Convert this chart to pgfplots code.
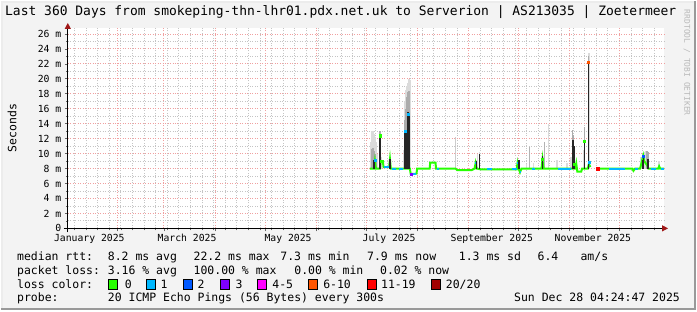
\documentclass[border=0pt]{standalone}
\usepackage{fontspec}
\setmainfont{DejaVu Sans Mono}
\usepackage{pgfplots}
\pgfplotsset{compat=1.18}
\usetikzlibrary{arrows.meta}
\definecolor{bgc}{HTML}{F3F3F3}
\definecolor{mgrid}{HTML}{F0A0A0}
\definecolor{ngrid}{HTML}{C4C4C4}
\definecolor{arrowc}{HTML}{A01818}
\definecolor{l0}{HTML}{26FF00}
\definecolor{l1}{HTML}{00B8FF}
\definecolor{l2}{HTML}{0059FF}
\definecolor{l3}{HTML}{7E00FF}
\definecolor{l4}{HTML}{FF00FF}
\definecolor{l6}{HTML}{FF5500}
\definecolor{l11}{HTML}{FF0000}
\definecolor{l20}{HTML}{A00000}
\newcommand{\lfont}{\fontsize{11.5bp}{13bp}\selectfont}
\begin{document}
\begin{tikzpicture}
\fill[bgc] (0bp,0bp) rectangle (697bp,310bp);
\draw[line width=2bp, color=white!85!gray] (1bp,0bp) -- (1bp,309bp) -- (697bp,309bp);
\draw[line width=2bp, color=gray!80] (0bp,1bp) -- (696bp,1bp) -- (696bp,310bp);
\node[anchor=base west, inner sep=0pt, font=\fontsize{13bp}{15bp}\selectfont] at (4bp,295bp) {Last 360 Days from smokeping-thn-lhr01.pdx.net.uk to Serverion | AS213035 | Zoetermeer};
\node[rotate=-90, inner sep=0pt, text=gray!55, font=\fontsize{8bp}{9bp}\selectfont] at (688bp,248bp) {RRDTOOL / TOBI OETIKER};
\begin{axis}[
  at={(67bp,82bp)}, anchor=south west, scale only axis,
  width=598bp, height=201bp,
  xmin=1, xmax=361, ymin=0, ymax=26.8,
  axis background/.style={fill=white},
  axis x line=bottom, axis y line=left,
  x axis line style={black, line width=1bp, shorten >=-4bp, shorten <=-4bp, -{Triangle[length=6bp,width=6bp,color=arrowc]}},
  y axis line style={black, line width=1bp, shorten >=-5bp, shorten <=-4bp, -{Triangle[length=6bp,width=6bp,color=arrowc]}},
  xtick={31,59,90,120,151,181,212,243,273,304,334},
  xticklabels={},
  minor xtick={5,12,...,361},
  extra x ticks={14,73,134,195,257,318},
  extra x tick labels={January 2025,March 2025,May 2025,July 2025,September 2025,November 2025},
  extra x tick style={grid=none, major tick length=0pt, xticklabel style={yshift=-2bp}},
  ytick={0,2,...,26},
  yticklabels={0,2 m,4 m,6 m,8 m,10 m,12 m,14 m,16 m,18 m,20 m,22 m,24 m,26 m},
  minor ytick={1,3,...,25},
  grid=both,
  major grid style={mgrid, line width=0.8bp, dash pattern=on 1bp off 1.5bp},
  minor grid style={ngrid, line width=0.8bp, dash pattern=on 1bp off 1.5bp},
  tick align=outside,
  major tick length=3bp, minor tick length=2bp,
  tick style={black!60, line width=0.6bp},
  tick label style={font=\fontsize{9.8bp}{11bp}\selectfont},
  ylabel={Seconds},
  ylabel style={at={(axis description cs:-0.0936,0.5)}, anchor=center, font=\fontsize{11.5bp}{13bp}\selectfont},
  unbounded coords=jump,
  clip=false,
]
% light smoke
\addplot[draw=none, mark=none, forget plot, error bars/.cd, y dir=plus, y explicit, error mark=none,
  error bar style={draw=gray!28, line width=1.8bp}] coordinates {
(184.0,8) +- (0,3.5) (184.6,8) +- (0,5.0) (185.2,8) +- (0,5.0) (185.8,8) +- (0,4.6)
(186.4,8) +- (0,4.2) (187.0,8) +- (0,3.5) (187.6,8) +- (0,2.0) (190.0,8) +- (0,1.5)
(195.5,8) +- (0,1.7) (204.0,8) +- (0,2.5) (204.5,8) +- (0,9.0) (205.1,8) +- (0,10.5)
(205.7,8) +- (0,11.0) (206.3,8) +- (0,11.5) (206.9,8) +- (0,12.0) (207.5,8) +- (0,11.8)
(247.2,8) +- (0,1.2) (248.4,8) +- (0,2.0) (249.6,8) +- (0,2.2) (272.5,8) +- (0,1.5)
(277.9,8) +- (0,0.6) (282.2,8) +- (0,0.8) (287.0,8) +- (0,1.0) (291.2,8) +- (0,6.0)
(296.5,8) +- (0,1.1) (302.6,8) +- (0,0.7) (305.0,8) +- (0,1.5) (312.3,8) +- (0,2.5)
(315.9,8) +- (0,15.5) (347.2,8) +- (0,1.5) (348.4,8) +- (0,2.0) (349.6,8) +- (0,2.2)
(350.2,8) +- (0,2.4) (358.0,8) +- (0,1.0)
};
% thin light spike
\addplot[draw=none, mark=none, forget plot, error bars/.cd, y dir=plus, y explicit, error mark=none,
  error bar style={draw=gray!40, line width=1bp}] coordinates {
(235.2,8) +- (0,4.2)
};
% medium smoke
\addplot[draw=none, mark=none, forget plot, error bars/.cd, y dir=plus, y explicit, error mark=none,
  error bar style={draw=gray!65, line width=1.6bp}] coordinates {
(184.6,8) +- (0,2.6) (185.2,8) +- (0,2.8) (185.8,8) +- (0,2.4) (186.4,8) +- (0,2.0)
(187.0,8) +- (0,1.2) (189.4,8) +- (0,5.0) (204.5,8) +- (0,6.5) (205.1,8) +- (0,8.0)
(205.7,8) +- (0,9.5) (206.3,8) +- (0,10.2) (206.9,8) +- (0,10.4)
(305.6,8) +- (0,5.1) (306.2,8) +- (0,4.5) (312.9,8) +- (0,5.5) (315.3,8) +- (0,15.0)
(350.8,8) +- (0,2.4) (351.4,8) +- (0,2.2)
};
\addplot[draw=none, mark=none, forget plot, error bars/.cd, y dir=plus, y explicit, error mark=none,
  error bar style={draw=gray!60, line width=1.1bp}] coordinates {
(279.7,8) +- (0,2.9) (288.8,8) +- (0,3.6)
};
% median line (green)
\addplot[l0, line width=2bp, mark=none, forget plot] coordinates {
(183.4,8.0) (185.8,8.0) (186.4,9.0) (187.0,8.0) (189.4,8.0) (189.9,9.0) (191.2,9.0) (191.6,8.2)
(195.0,8.2) (195.5,9.2) (196.0,8.0) (207.5,8.0) (208.0,7.3) (211.5,7.3) (211.9,8.0) (219.5,8.0)
(219.8,8.8) (223.0,8.8) (223.3,8.0) (235.0,8.0) (236.0,7.8) (245.0,7.8) (246.6,8.0) (247.2,8.7)
(247.8,8.0) (250.0,7.9) (272.0,7.9) (272.5,8.7) (273.2,8.0) (274.0,7.5) (274.9,8.0) (287.0,8.0)
(287.6,9.2) (288.2,8.0) (307.6,8.0) (308.0,8.6) (308.6,7.6) (311.0,7.6) (311.5,8.0) (315.0,8.0)
(315.6,8.6) (316.5,8.2) (316.6,nan) (320.1,8.0) (341.8,8.0) (342.5,7.7) (343.5,8.0) (346.5,8.0)
(347.2,8.6) (348.4,9.7) (349.0,9.0) (350.8,8.4) (351.5,8.0) (357.5,8.0) (358.0,8.3) (358.6,8.0) (361.0,8.0)
};
% median line, 1 lost (blue)
\addplot[l1, line width=2bp, mark=none, forget plot] coordinates {
(186.2,9.0) (186.8,9.0) (187,nan) (192.0,8.2) (195.0,8.2) (195.1,nan) (195.3,9.2) (195.8,9.2) (196,nan)
(197,8.0) (199,8.0) (200,nan) (201,8.0) (203.5,8.0) (204,nan) (208.5,7.3) (211.5,7.3) (212,nan)
(224.0,8.0) (225.0,8.0) (226,nan) (247.0,8.7) (247.6,8.7) (248,nan) (254,7.9) (257,7.9) (258,nan)
(269,7.9) (272.0,7.9) (272.2,nan) (272.3,8.7) (273.0,8.7) (273.5,nan) (273.8,7.5) (274.6,7.5) (275,nan)
(281,8.0) (283,8.0) (284,nan) (297,8.0) (305,8.0) (305.5,nan) (315.5,8.7) (316.3,8.7) (317,nan)
(327.9,8.0) (337.5,8.0) (338,nan) (343.5,8.0) (345.5,8.0) (346,nan) (348.1,9.7) (348.7,9.7) (349,nan)
(350.5,8.4) (351.1,8.4) (352,nan) (353,8.0) (356,8.0) (357,nan) (359,8.0) (361,8.0)
};
% dense smoke (black)
\addplot[draw=none, mark=none, forget plot, error bars/.cd, y dir=plus, y explicit, error mark=none,
  error bar style={draw=black!85, line width=1.5bp}] coordinates {
(186.0,8) +- (0,1.1) (189.4,8) +- (0,4.4) (195.5,8) +- (0,1.3) (204.5,8) +- (0,5.1) (205.1,8) +- (0,5.0)
(206.3,8) +- (0,7.5) (206.9,8) +- (0,7.0) (247.8,8) +- (0,1.0) (249.6,8) +- (0,2.0) (273.4,8) +- (0,1.1)
(287.6,8) +- (0,1.7) (305.9,8) +- (0,3.8) (306.5,8) +- (0,3.0) (312.9,8) +- (0,3.7) (315.3,8) +- (0,14.2)
(348.0,8) +- (0,1.2) (348.6,8) +- (0,1.7) (351.4,8) +- (0,1.3)
};
% loss-coloured points of the median on the spikes
\addplot[only marks, mark=square*, mark size=1.1bp, l0, forget plot] coordinates {(189.4,12.4) (287.6,9.2) (312.9,11.7) (306.6,8.6) (190.4,9.0)};
\addplot[only marks, mark=square*, mark size=1.1bp, l1, forget plot] coordinates {(186.4,9.1) (204.5,13.0) (206.3,15.3) (315.6,8.8)};
\addplot[only marks, mark=square*, mark size=1.1bp, l2, forget plot] coordinates {(348.4,9.7)};
\addplot[only marks, mark=square*, mark size=1.1bp, l3, forget plot] coordinates {(208.1,7.2)};
\addplot[only marks, mark=square*, mark size=1.2bp, l6, forget plot] coordinates {(315.3,22.2)};
\addplot[only marks, mark=square*, mark size=1.2bp, l11, forget plot] coordinates {(320.8,8.0)};
\end{axis}
% legend text
\begin{scope}[every node/.style={anchor=base west, inner sep=0pt, font=\lfont}]
\node at (16bp,50bp) {median rtt:};
\node at (107bp,50bp) {8.2 ms avg};
\node at (193bp,50bp) {22.2 ms max};
\node at (280bp,50bp) {7.3 ms min};
\node at (367bp,50bp) {7.9 ms now};
\node at (459bp,50bp) {1.3 ms sd};
\node at (538bp,50bp) {6.4};
\node at (581bp,50bp) {am/s};
\node at (16bp,36bp) {packet loss:};
\node at (107bp,36bp) {3.16 \% avg};
\node at (193bp,36bp) {100.00 \% max};
\node at (294bp,36bp) {0.00 \% min};
\node at (380bp,36bp) {0.02 \% now};
\node at (16bp,22bp) {loss color:};
\node at (124bp,22bp) {0};
\node at (160bp,22bp) {1};
\node at (197bp,22bp) {2};
\node at (235bp,22bp) {3};
\node at (272bp,22bp) {4-5};
\node at (323bp,22bp) {6-10};
\node at (381bp,22bp) {11-19};
\node at (446bp,22bp) {20/20};
\node at (16bp,9bp) {probe:};
\node at (107bp,9bp) {20 ICMP Echo Pings (56 Bytes) every 300s};
\node[anchor=base east] at (681bp,9bp) {Sun Dec 28 04:24:47 2025};
\end{scope}
\foreach \xx/\cc in {108/l0,146/l1,183/l2,220/l3,257/l4,308/l6,367/l11,432/l20}{
  \filldraw[fill=\cc, draw=black, line width=0.8bp] (\xx bp,20.5bp) rectangle ++(9bp,10bp);
}
\end{tikzpicture}
\end{document}
